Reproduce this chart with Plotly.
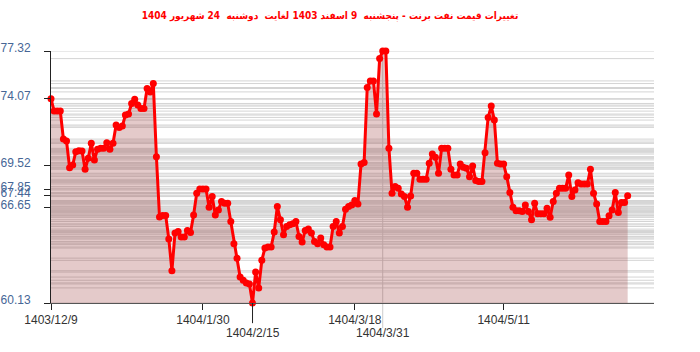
import plotly.graph_objects as go

title_text = "تغییرات قیمت نفت برنت - پنجشنبه  9 اسفند 1403 لغایت  دوشنبه  24 شهریور 1404"

prices = [
    74.07, 73.22, 73.22, 73.22, 71.31, 71.18, 69.36, 69.54, 70.45, 70.52,
    70.50, 69.25, 70.00, 71.02, 69.89, 70.61, 70.68, 70.68, 71.06, 70.61,
    71.02, 72.27, 72.11, 72.20, 72.95, 73.02, 73.74, 74.03, 73.63, 73.40,
    73.40, 74.76, 74.53, 75.10, 70.11, 65.99, 66.10, 66.10,
    64.49, 62.33, 64.90, 65.01, 64.63, 64.63, 65.08, 64.94, 66.14, 67.61,
    67.91, 67.91, 67.91, 66.66, 67.39, 66.14, 66.48, 67.05, 66.93, 66.93,
    65.69, 64.17, 63.19, 61.90, 61.68, 61.50, 61.43, 60.13, 62.24, 61.16,
    63.04, 63.88, 63.95, 63.95, 64.97, 66.71, 65.81, 64.79,
    65.35, 65.46, 65.53, 65.69, 64.67, 64.29, 65.08, 65.17, 64.90, 64.33,
    64.17, 64.56, 64.11, 63.95, 63.95, 65.35, 65.69, 64.90, 65.35, 66.53,
    66.71, 66.82, 67.12, 66.89, 69.61, 69.72, 74.83, 75.28, 75.28, 73.02,
    76.80, 77.32, 77.32, 70.68, 67.62,
    68.07, 67.96, 67.57, 67.39, 66.66, 67.43, 68.98, 68.98, 68.57, 68.57,
    68.57, 69.66, 70.29, 70.07, 68.98, 70.68, 70.68, 70.68, 69.25, 68.86,
    68.86, 69.61, 69.39, 69.32, 68.75, 69.48, 68.48, 68.41, 68.41, 70.38,
    72.79, 73.56, 72.61, 69.66, 69.61, 69.61, 68.75, 67.66, 66.66, 66.43,
    66.43,
    66.37, 66.82, 66.37, 65.81, 66.93, 66.21, 66.21, 66.21, 66.59, 65.98,
    67.05, 67.62, 67.96, 67.96, 67.96, 68.86, 67.39, 67.84, 68.34, 68.25,
    68.25, 68.25, 69.25, 67.62, 66.89, 65.69, 65.69, 65.69, 66.08, 66.48,
    67.66, 66.30, 66.98, 66.98, 67.44,
]

y_tick_values = [77.32, 74.07, 69.52, 67.85, 67.44, 66.65, 60.13]
x_tick_labels = ["1403/12/9", "1404/1/30", "1404/3/18", "1404/5/11"]
x_tick_index = [0, 49, 98, 146]
min_label = "1404/2/15"
max_label = "1404/3/31"

idx = list(range(len(prices)))
i_min = prices.index(min(prices))
i_max = prices.index(max(prices))

fig = go.Figure()
fig.add_trace(go.Scatter(
    x=idx, y=prices, mode="lines+markers",
    line=dict(color="#ff0000", width=3),
    marker=dict(color="#ff0000", size=7),
    fill="tozeroy", fillcolor="rgba(150,50,50,0.26)",
    cliponaxis=False, hoverinfo="skip", showlegend=False,
))

shapes = []
for v in sorted(set(prices)):
    shapes.append(dict(type="line", xref="paper", x0=0, x1=1, yref="y", y0=v, y1=v,
                       line=dict(color="#d4d4d4", width=1), layer="below"))
# max marker vertical line
shapes.append(dict(type="line", xref="x", x0=i_max, x1=i_max, yref="paper", y0=1, y1=-0.1,
                   line=dict(color="#cccccc", width=1), layer="below"))
# min extended tick
shapes.append(dict(type="line", xref="x", x0=i_min, x1=i_min, yref="paper", y0=0, y1=-0.08,
                   line=dict(color="#222222", width=1), layer="above"))

lbl_font = dict(size=12, color="#333333", family="Liberation Sans, Arial")
annotations = [
    dict(text=min_label, xref="x", x=i_min, yref="paper", y=-0.12, yanchor="middle",
         xanchor="center", showarrow=False, font=lbl_font),
    dict(text=max_label, xref="x", x=i_max, yref="paper", y=-0.12, yanchor="middle",
         xanchor="center", showarrow=False, font=lbl_font),
]

fig.update_layout(
    width=700, height=352,
    margin=dict(l=51, r=46, t=51, b=49, autoexpand=False),
    paper_bgcolor="white", plot_bgcolor="white",
    title=dict(text=title_text, x=330/700, xanchor="center", xref="container",
               y=1-15/352, yanchor="middle", yref="container",
               font=dict(size=10, color="#ff0000", family="DejaVu Sans Condensed, DejaVu Sans",
                         weight="bold")),
    shapes=shapes, annotations=annotations,
    xaxis=dict(range=[0, 194.5], showgrid=False, zeroline=False, automargin=False,
               tickvals=x_tick_index, ticktext=x_tick_labels,
               ticks="outside", ticklen=6, tickcolor="#222222",
               showline=True, linecolor="#555555", linewidth=1,
               tickfont=lbl_font),
    yaxis=dict(range=[60.13, 77.32], showgrid=False, zeroline=False, automargin=False,
               tickvals=y_tick_values, ticktext=[f"{v:.2f}" for v in y_tick_values],
               ticks="outside", ticklen=6, tickcolor="#222222",
               showline=True, linecolor="#222222", linewidth=1,
               ticklabelstandoff=11, ticklabelshift=-3,
               tickfont=dict(size=12, color="#466696", family="Liberation Sans, Arial")),
)

fig.write_html("out.html")
